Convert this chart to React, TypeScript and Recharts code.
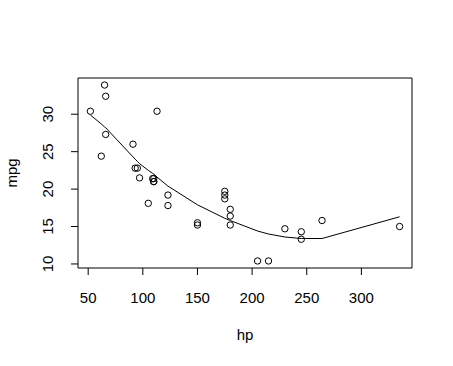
import React from 'react';
import { ComposedChart, Scatter, Line, XAxis, YAxis, ReferenceArea } from 'recharts';

const hp = [110, 110, 93, 110, 175, 105, 245, 62, 95, 123, 123, 180, 180, 180, 205, 215, 230, 66, 52, 65, 97, 150, 150, 245, 175, 66, 91, 113, 264, 175, 335, 109];
const mpg = [21.0, 21.0, 22.8, 21.4, 18.7, 18.1, 14.3, 24.4, 22.8, 19.2, 17.8, 16.4, 17.3, 15.2, 10.4, 10.4, 14.7, 32.4, 30.4, 33.9, 21.5, 15.5, 15.2, 13.3, 19.2, 27.3, 26.0, 30.4, 15.8, 19.7, 15.0, 21.4];

// smooth curve
const fitHp = [52, 62, 65, 66, 91, 93, 95, 97, 105, 109, 110, 113, 123, 150, 175, 180, 205, 215, 230, 245, 264, 335];
const fitMpg = [29.9, 28.7, 28.3, 28.2, 24.3, 24.0, 23.7, 23.4, 22.5, 22.1, 22.0, 21.6, 20.4, 17.9, 16.1, 15.8, 14.4, 14.0, 13.6, 13.4, 13.4, 16.3];

const xTicks = [50, 100, 150, 200, 250, 300];
const yTicks = [10, 15, 20, 25, 30];

const points = hp.map((h, i) => ({ hp: h, mpg: mpg[i] }));
const fit = fitHp.map((h, i) => ({ hp: h, mpg: fitMpg[i] }));

const xDomain: [number, number] = [40.68, 346.32];
const yDomain: [number, number] = [9.46, 34.84];

const font = '"Liberation Sans", Arial, sans-serif';

const XTick = ({ x, y, payload }: any) => (
  <text x={x} y={y} dy={26} textAnchor="middle" fontSize={15} fontFamily={font} fill="#000">
    {payload.value}
  </text>
);

const YTick = ({ x, y, payload }: any) => {
  const tx = x - 15.5;
  return (
    <text x={tx} y={y} transform={`rotate(-90, ${tx}, ${y})`} textAnchor="middle" fontSize={15} fontFamily={font} fill="#000">
      {payload.value}
    </text>
  );
};

const Circle = (props: any) => {
  const { cx, cy } = props;
  return <circle cx={cx} cy={cy} r={3.2} fill="none" stroke="#000" strokeWidth={1} />;
};

export default function App() {
  return (
    <div style={{ position: 'fixed', left: 0, top: 0, background: '#fff' }}>
      <ComposedChart width={453} height={366} margin={{ top: 78, right: 41, left: 0, bottom: 0 }}>
        <XAxis
          dataKey="hp"
          type="number"
          domain={xDomain}
          ticks={xTicks}
          allowDataOverflow
          height={98}
          axisLine={false}
          tickLine={{ stroke: '#000' }}
          tickSize={7}
          tick={<XTick />}
          label={{
            content: ({ viewBox }: any) => (
              <text x={viewBox.x + viewBox.width / 2} y={viewBox.y + 72} textAnchor="middle" fontSize={15} fontFamily={font} fill="#000">
                hp
              </text>
            ),
          }}
        />
        <YAxis
          dataKey="mpg"
          type="number"
          domain={yDomain}
          ticks={yTicks}
          allowDataOverflow
          width={78}
          axisLine={false}
          tickLine={{ stroke: '#000' }}
          tickSize={7}
          tick={<YTick />}
          label={{
            content: ({ viewBox }: any) => {
              const lx = viewBox.x + 16.7;
              const ly = viewBox.y + viewBox.height / 2;
              return (
                <text x={lx} y={ly} transform={`rotate(-90, ${lx}, ${ly})`} textAnchor="middle" fontSize={15} fontFamily={font} fill="#000">
                  mpg
                </text>
              );
            },
          }}
        />
        <ReferenceArea x1={xDomain[0]} x2={xDomain[1]} y1={yDomain[0]} y2={yDomain[1]} fill="none" stroke="#000" strokeWidth={1} fillOpacity={0} />
        <Scatter data={points} dataKey="mpg" shape={<Circle />} isAnimationActive={false} />
        <Line data={fit} dataKey="mpg" type="linear" stroke="#000" strokeWidth={1} dot={false} activeDot={false} isAnimationActive={false} />
      </ComposedChart>
    </div>
  );
}
